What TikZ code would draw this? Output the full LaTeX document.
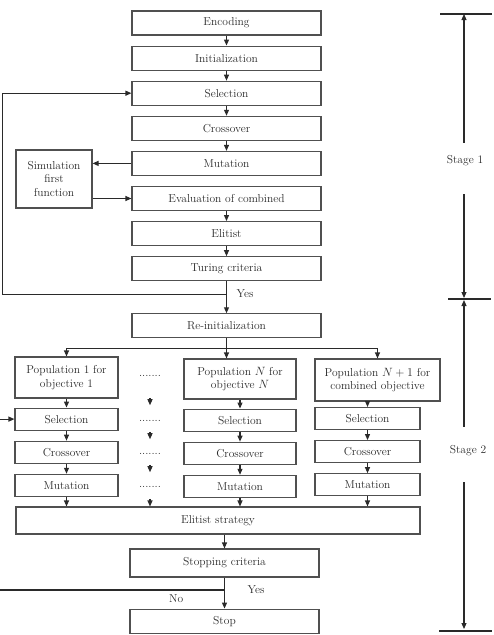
\documentclass[tikz,border=0pt]{standalone}
\usepackage{xcolor}
\usepackage{tikz}
\usetikzlibrary{positioning,arrows.meta,calc}
\definecolor{ink}{HTML}{2A2A2A}
\definecolor{boxgrey}{HTML}{505050}
\tikzset{
  box/.style={rectangle, draw=boxgrey, line width=1.1pt, align=center,
              inner sep=2pt, text=ink, font=\fontsize{11.5}{13.5}\selectfont},
  mainbox/.style={box, minimum width=189pt, minimum height=24pt},
  subbox/.style={box, minimum height=22pt},
  ar/.style={-{Triangle[length=6pt,width=5pt]}, line width=1.1pt, draw=ink},
  ln/.style={line width=1.1pt, draw=ink},
  lbl/.style={font=\fontsize{11.5}{13.5}\selectfont, text=ink, inner sep=1pt},
  dotrow/.style={font=\fontsize{11.5}{13.5}\selectfont, text=ink, inner sep=0pt},
}

\begin{document}
\begin{tikzpicture}[x=1pt, y=-1pt, node distance=10pt]
  \useasboundingbox (0,0) rectangle (494,635);

  % stage 1
  \node[mainbox] (enc) at (226.5,23) {Encoding};
  \node[mainbox, below=of enc] (init) {Initialization};
  \node[mainbox, below=of init] (sel) {Selection};
  \node[mainbox, below=of sel] (cro) {Crossover};
  \node[mainbox, below=of cro] (mut) {Mutation};
  \node[mainbox, below=of mut] (eva) {Evaluation of combined};
  \node[mainbox, below=of eva] (eli) {Elitist};
  \node[mainbox, below=of eli] (tur) {Turing criteria};
  \node[box, minimum width=76pt, minimum height=58pt] (sim) at (54,179) {Simulation\\first\\function};
  \node[mainbox, below=32pt of tur] (rei) {Re-initialization};

  \foreach \a/\b in {enc/init, init/sel, sel/cro, cro/mut, eva/eli, eli/tur}
    \draw[ar] (\a) -- (\b);
  \draw[ar] (mut.west) -- (mut.west -| sim.east);
  \draw[ar] (sim.east |- eva.west) -- (eva.west);
  \draw[ar] (tur) -- (rei);
  \coordinate (yes1) at ($(tur.south)!0.4!(rei.north)$);
  \path (yes1) ++(-224,0) coordinate (back);
  \draw[ar] (yes1) -- (back) |- (sel.west);
  \node[lbl, right=9pt of yes1] (yes1lbl) {Yes};

  % stage 2
  \node[box, minimum width=103pt, minimum height=41pt] (popa) at (66.5,377.5) {Population 1 for\\objective 1};
  \node[box, minimum width=112pt, minimum height=40pt] (popn) at (240,379) {Population $N$ for\\objective $N$};
  \node[box, minimum width=125pt, minimum height=42pt] (popm) at (377.5,380) {Population $N+1$ for\\combined objective};

  \node[subbox, minimum width=103pt, below=9pt of popa] (sela) {Selection};
  \node[subbox, minimum width=103pt, below=of sela] (croa) {Crossover};
  \node[subbox, minimum width=103pt, below=of croa] (muta) {Mutation};

  \node[subbox, minimum width=112pt, below=9pt of popn] (seln) {Selection};
  \node[subbox, minimum width=112pt, below=of seln] (cron) {Crossover};
  \node[subbox, minimum width=112pt, below=of cron] (mutn) {Mutation};

  \node[subbox, minimum width=105pt] (selm) at (367.5,418.5) {Selection};
  \node[subbox, minimum width=105pt, below=of selm] (crom) {Crossover};
  \node[subbox, minimum width=105pt, below=of crom] (mutm) {Mutation};

  \node[dotrow] (da) at (150,376) {.......};
  \node[dotrow] (db) at (150,421) {.......};
  \node[dotrow] (dc) at (150,454) {.......};
  \node[dotrow] (dd) at (150,487) {.......};

  \node[box, minimum width=404pt, minimum height=27pt] (elis) at (218,520.5) {Elitist strategy};
  \node[box, minimum width=189pt, minimum height=28pt] (stc) at (224.5,563) {Stopping criteria};
  \node[mainbox, below=31pt of stc] (stop) {Stop};

  \coordinate (fork) at ($(rei.south)!0.5!(rei.south |- popn.north)$);
  \draw[ar] (rei.south) -- (rei.south |- popn.north);
  \draw[ar] (fork) -| (popa.north);
  \draw[ar] (fork) -| (popm.north);

  \foreach \a/\b in {popa/sela, sela/croa, croa/muta, popn/seln, seln/cron, cron/mutn, selm/crom, crom/mutm}
    \draw[ar] (\a) -- (\b);
  \draw[ar] (selm.north |- popm.south) -- (selm);
  \foreach \m in {muta, mutn, mutm}
    \draw[ar] (\m) -- (\m |- elis.north);

  \draw[ar, shorten <=21pt, shorten >=15pt] (da) -- (db);
  \draw[ar, shorten <=10pt, shorten >=14pt] (db) -- (dc);
  \draw[ar, shorten <=10pt, shorten >=14pt] (dc) -- (dd);
  \draw[ar, shorten <=11pt] (dd) -- (dd |- elis.north);

  \path (sela.west) ++(-15,0) coordinate (inL);
  \draw[ar] (inL) -- (sela.west);

  \draw[ar] (stc.north |- elis.south) -- (stc.north);
  \draw[ar] (stc) -- (stop);
  \coordinate (no1) at ($(stc.south)!0.4!(stop.north)$);
  \path (no1) ++(-224.5,0) coordinate (noL);
  \draw[ln] (no1) -- (noL);
  \node[lbl, right=22pt of no1] (yes2lbl) {Yes};
  \node[lbl, below left=3pt and 40pt of no1] (nolbl) {No};

  % stage brackets
  \coordinate (t0) at (464,14);
  \coordinate (t1) at (464,299);
  \coordinate (t2) at (464,631);
  \draw[ln] (440,14) -- (492,14);
  \draw[ln] (448,299) -- (491,299);
  \draw[ln] (439,631) -- (492,631);
  \node[lbl] (st1) at (465,161) {Stage 1};
  \node[lbl] (st2) at (468,451) {Stage 2};
  \draw[ar, shorten <=12pt] (t0 |- st1.north) -- (t0);
  \draw[ar, shorten <=27pt, shorten >=1pt] (t0 |- st1.south) -- (t1);
  \draw[ar, shorten <=18pt, shorten >=1pt] (t1 |- st2.north) -- (t1);
  \draw[ar, shorten <=25pt, shorten >=2pt] (t1 |- st2.south) -- (t2);
\end{tikzpicture}
\end{document}
